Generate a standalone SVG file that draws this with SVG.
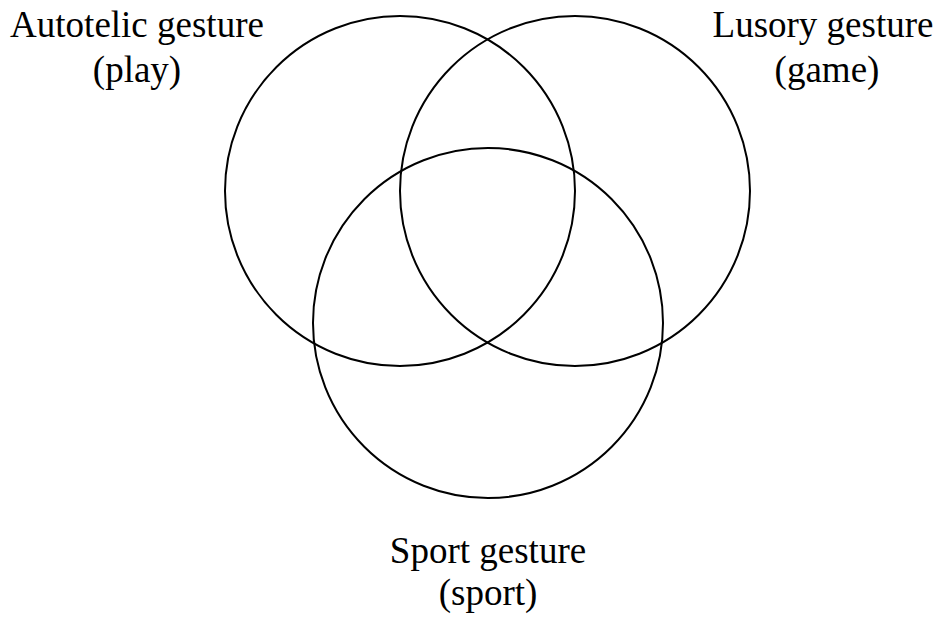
<svg xmlns="http://www.w3.org/2000/svg" width="944" height="620" viewBox="0 0 944 620">
<style>
.c{fill:none;stroke:#000;stroke-width:2}
.t{font-family:"Liberation Serif","Times New Roman",serif;font-size:37px;fill:#000;text-anchor:middle}
</style>
<rect width="944" height="620" fill="#fff"/>
<g id="play">
<circle class="c" cx="400" cy="191" r="175"/>
<text class="t" x="137" y="37">Autotelic gesture</text>
<text class="t" x="137" y="82">(play)</text>
</g>
<g id="game">
<circle class="c" cx="575" cy="191" r="175"/>
<text class="t" x="823" y="37">Lusory gesture</text>
<text class="t" x="827" y="82">(game)</text>
</g>
<g id="sport">
<circle class="c" cx="488" cy="323" r="175"/>
<text class="t" x="488" y="563">Sport gesture</text>
<text class="t" x="488" y="605">(sport)</text>
</g>
<g id="connectors"></g>
</svg>
